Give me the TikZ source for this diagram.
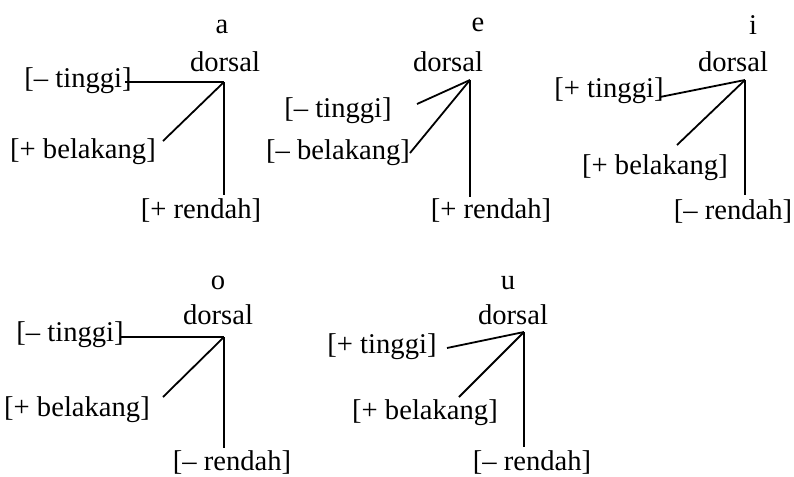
\documentclass[tikz,border=0pt]{standalone}
\usepackage{fontspec}
\setmainfont{Liberation Serif}
\begin{document}
\begin{tikzpicture}[x=0.5pt,y=-0.5pt,
  lbl/.style={inner sep=0pt, font=\fontsize{14.3}{17}\selectfont},
  br/.style={line width=0.9pt}]
\useasboundingbox (0,0) rectangle (794,477);

% ---- a ----
\node[lbl] (aL) at (222,27) {a};
\node[lbl] (aD) at (225,62) {dorsal};
\coordinate (aX) at (224,82);
\node[lbl] (aT) at (78,81) {[\textendash\ tinggi]};
\node[lbl] (aB) at (83,152) {[+ belakang]};
\node[lbl] (aR) at (201,210) {[+ rendah]};
\coordinate (aT1) at (125,82);
\coordinate (aB1) at (163,141);
\coordinate (aR1) at (224,195);
\draw[br] (aX) -- (aT1);
\draw[br] (aX) -- (aB1);
\draw[br] (aX) -- (aR1);

% ---- e ----
\node[lbl] (eL) at (478,25) {e};
\node[lbl] (eD) at (448,62) {dorsal};
\coordinate (eX) at (470,80);
\node[lbl] (eT) at (338,111) {[\textendash\ tinggi]};
\node[lbl] (eB) at (338,153) {[\textendash\ belakang]};
\node[lbl] (eR) at (491,210) {[+ rendah]};
\coordinate (eT1) at (417,104);
\coordinate (eB1) at (410,153);
\coordinate (eR1) at (470,197);
\draw[br] (eX) -- (eT1);
\draw[br] (eX) -- (eB1);
\draw[br] (eX) -- (eR1);

% ---- i ----
\node[lbl] (iL) at (753,25) {i};
\node[lbl] (iD) at (733,62) {dorsal};
\coordinate (iX) at (745,80);
\node[lbl] (iT) at (609,91) {[+ tinggi]};
\node[lbl] (iB) at (655,168) {[+ belakang]};
\node[lbl] (iR) at (733,211) {[\textendash\ rendah]};
\coordinate (iT1) at (660,97);
\coordinate (iB1) at (677,145);
\coordinate (iR1) at (745,195);
\draw[br] (iX) -- (iT1);
\draw[br] (iX) -- (iB1);
\draw[br] (iX) -- (iR1);

% ---- o ----
\node[lbl] (oL) at (218,283) {o};
\node[lbl] (oD) at (218,315) {dorsal};
\coordinate (oX) at (224,337);
\node[lbl] (oT) at (70,335) {[\textendash\ tinggi]};
\node[lbl] (oB) at (77,410) {[+ belakang]};
\node[lbl] (oR) at (232,462) {[\textendash\ rendah]};
\coordinate (oT1) at (120,337);
\coordinate (oB1) at (163,397);
\coordinate (oR1) at (224,448);
\draw[br] (oX) -- (oT1);
\draw[br] (oX) -- (oB1);
\draw[br] (oX) -- (oR1);

% ---- u ----
\node[lbl] (uL) at (508,283) {u};
\node[lbl] (uD) at (513,315) {dorsal};
\coordinate (uX) at (524,332);
\node[lbl] (uT) at (382,347) {[+ tinggi]};
\node[lbl] (uB) at (425,413) {[+ belakang]};
\node[lbl] (uR) at (532,462) {[\textendash\ rendah]};
\coordinate (uT1) at (447,348);
\coordinate (uB1) at (459,397);
\coordinate (uR1) at (524,447);
\draw[br] (uX) -- (uT1);
\draw[br] (uX) -- (uB1);
\draw[br] (uX) -- (uR1);
\end{tikzpicture}
\end{document}
